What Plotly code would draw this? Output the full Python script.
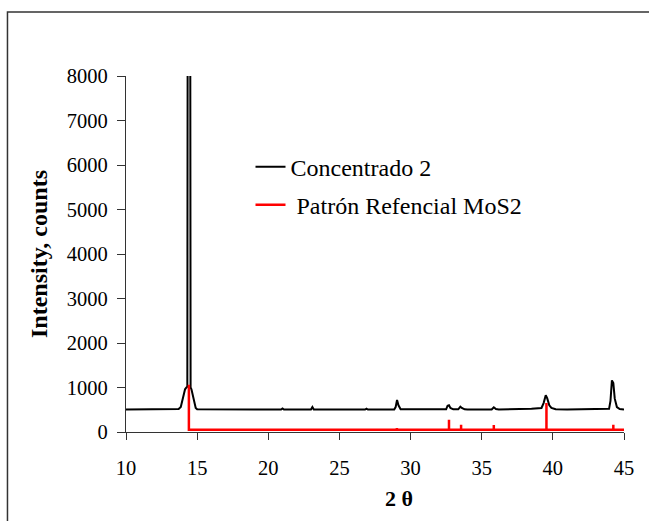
import plotly.graph_objects as go

# --- measured diffractogram "Concentrado 2" (2theta, counts) ---
conc_x = [10.0, 13.0, 13.7, 13.85, 13.95, 14.05, 14.15, 14.25, 14.31, 14.42, 14.54, 14.6, 14.7,
          14.8, 14.9, 15.0, 17.5, 20.9, 21.0, 21.1, 23.0, 23.1, 23.2, 26.8, 26.9, 27.0,
          28.85, 28.95, 29.05, 29.15, 29.3, 32.5, 32.6, 32.7, 32.8, 33.0, 33.35, 33.5, 33.6,
          33.8, 34.0, 35.7, 35.85, 36.0, 36.2, 37.5, 38.5, 39.2, 39.35, 39.5, 39.6,
          39.75, 39.9, 40.2, 41.0, 43.95, 44.05, 44.15, 44.25, 44.35, 44.5, 44.7, 45.0]
conc_y = [505, 505, 515, 560, 700, 850, 960, 1000, 1020, 40000, 1000, 960, 800,
          640, 540, 510, 505, 505, 530, 505, 505, 560, 505, 505, 525, 505,
          505, 560, 720, 600, 510, 510, 590, 600, 540, 510, 510, 570, 540,
          510, 505, 505, 555, 515, 505, 505, 520, 540, 650, 825, 760,
          600, 540, 510, 505, 520, 700, 1160, 1100, 750, 560, 515, 505]

# --- reference pattern MoS2 (stick positions and intensities) ---
ref_pos = [14.42, 29.04, 32.7, 33.55, 35.85, 39.55, 44.25]
ref_int = [1064, 90, 277, 165, 157, 650, 165]
ref_base = 52
ref_start = 14.42
ref_end = 45.0

x_ticks = [10, 15, 20, 25, 30, 35, 40, 45]
y_ticks = [0, 1000, 2000, 3000, 4000, 5000, 6000, 7000, 8000]

# build stick path from the reference arrays
rx, ry = [ref_start], [ref_base]
for p, h in zip(ref_pos, ref_int):
    rx += [p, p, p]
    ry += [ref_base, h, ref_base]
rx.append(ref_end)
ry.append(ref_base)

FONT = "Liberation Serif, Times New Roman, serif"
TICKFONT = dict(size=20.5, family="Liberation Serif, Times New Roman, serif", color="black")

fig = go.Figure()
fig.add_trace(go.Scatter(x=conc_x, y=conc_y, mode="lines", name="Concentrado 2",
                         line=dict(color="black", width=2), legend="legend"))
fig.add_trace(go.Scatter(x=rx, y=ry, mode="lines", name="\u00a0Patrón Refencial MoS2",
                         line=dict(color="#ff0000", width=2.5), legend="legend2"))

fig.update_layout(
    width=649, height=521,
    margin=dict(l=126, r=25, t=76, b=89),
    paper_bgcolor="white", plot_bgcolor="white",
    font=dict(family=FONT, color="black", size=21),
    showlegend=True,
    legend=dict(x=0.25, y=0.744, xanchor="left", yanchor="middle",
                bgcolor="rgba(0,0,0,0)", font=dict(size=24, family=FONT)),
    legend2=dict(x=0.25, y=0.637, xanchor="left", yanchor="middle",
                 bgcolor="rgba(0,0,0,0)", font=dict(size=24, family=FONT)),
    shapes=[dict(type="rect", xref="paper", yref="paper",
                 x0=-0.238, x1=1.2, y0=-0.4, y1=1.18,
                 line=dict(color="#333333", width=1.5), layer="below")],
    annotations=[dict(text="<b>2 θ</b>", xref="paper", yref="paper",
                      x=(399 - 126) / 498, y=(432 - 498) / 356,
                      xanchor="center", yanchor="middle", showarrow=False,
                      font=dict(size=22, family=FONT, color="black"))],
)
fig.update_xaxes(range=[10, 45], tickvals=x_ticks, ticktext=[str(v) for v in x_ticks],
                 showgrid=False, zeroline=False, showline=True, linecolor="#333333",
                 linewidth=1.2, ticks="outside", ticklen=7, tickcolor="#333333",
                 ticklabelstandoff=10, tickfont=TICKFONT)
fig.update_yaxes(range=[0, 8000], tickvals=y_ticks, ticktext=[str(v) for v in y_ticks],
                 showgrid=False, zeroline=False, showline=True, linecolor="#333333",
                 linewidth=1.2, ticks="outside", ticklen=8, tickcolor="#333333",
                 ticklabelstandoff=5, tickfont=TICKFONT,
                 title=dict(text="<b>Intensity, counts</b>", standoff=12,
                            font=dict(size=24, family=FONT)))

fig.write_html("out.html")
